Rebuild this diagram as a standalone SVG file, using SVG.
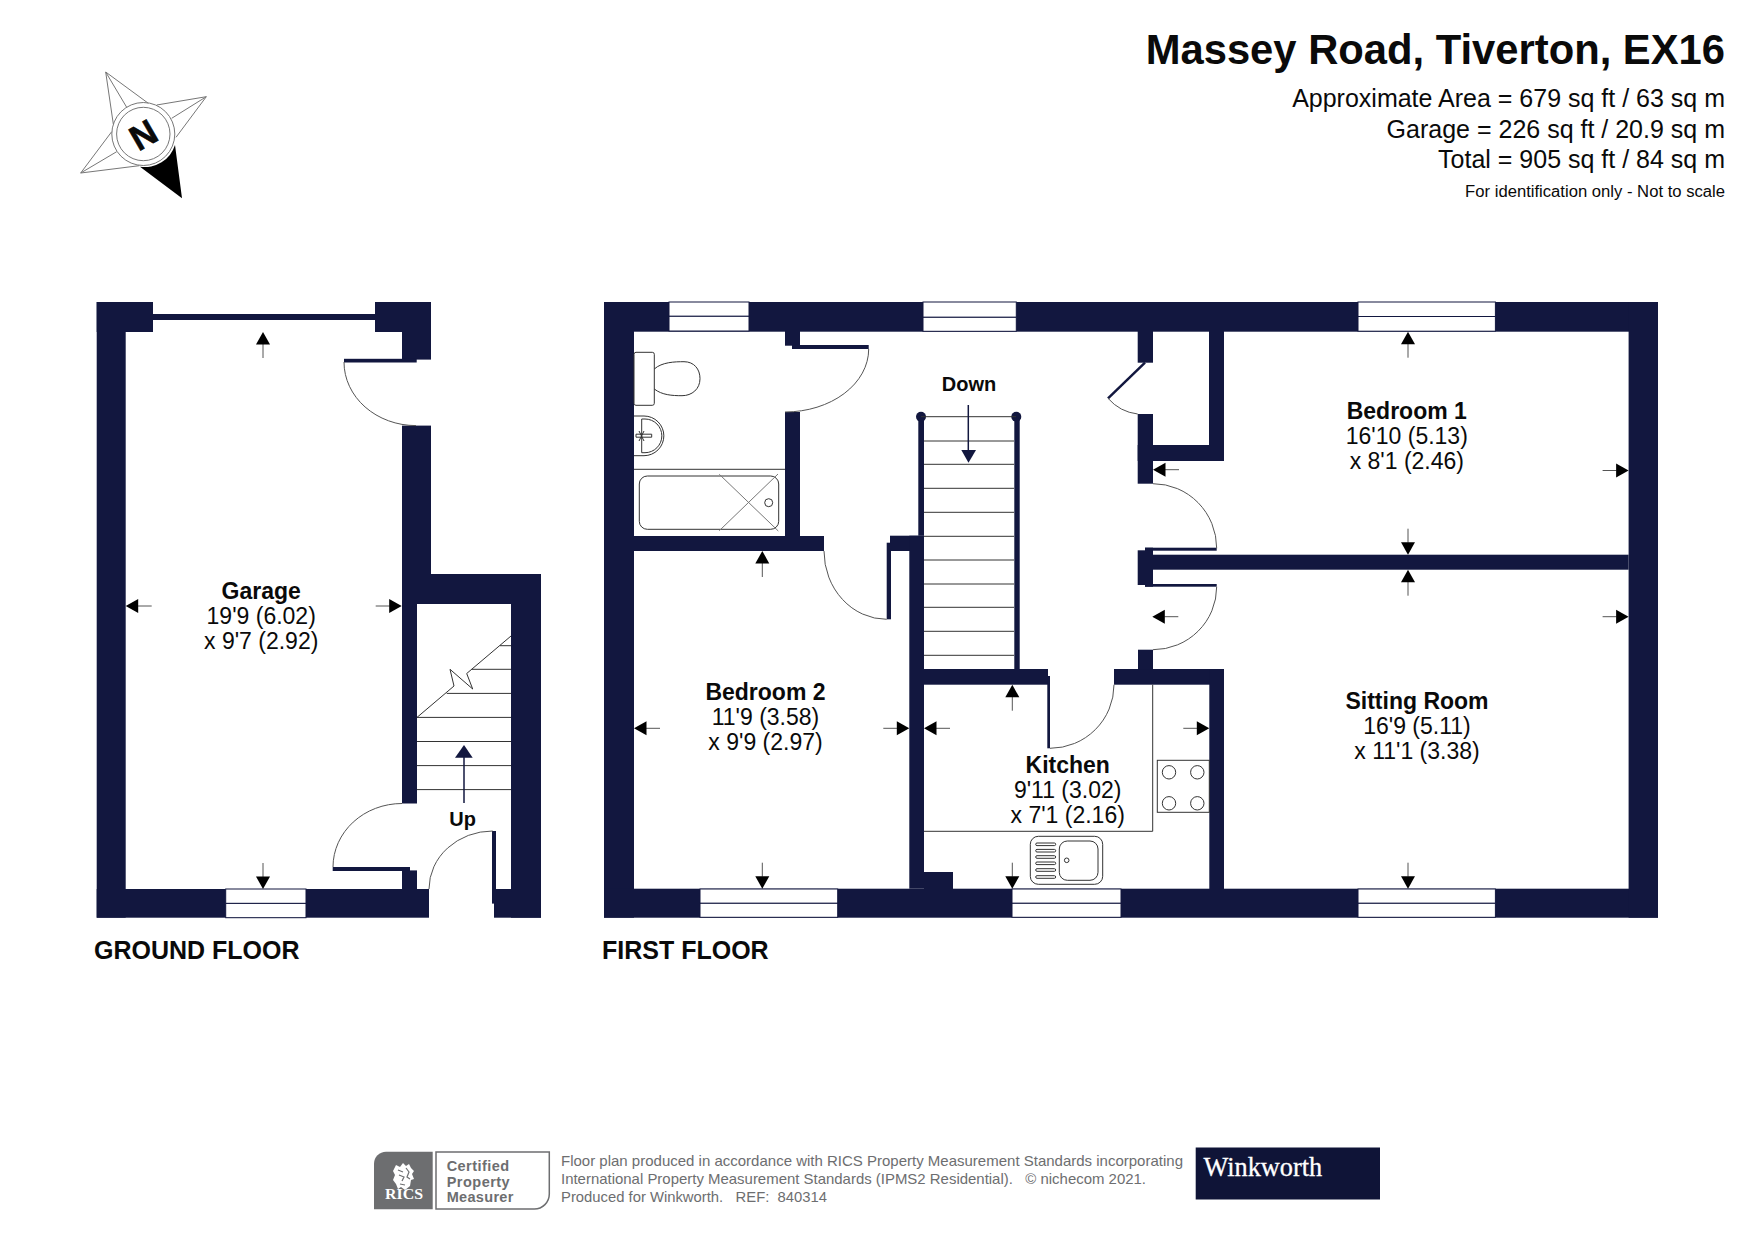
<svg xmlns="http://www.w3.org/2000/svg" width="1755" height="1241" viewBox="0 0 1755 1241">
<style>
text{font-family:"Liberation Sans",Arial,sans-serif;fill:#0a0a0a}
.b{font-weight:700}
.r{font-size:23px;text-anchor:middle}
.w{fill:#12173f}
.win{fill:#fff;stroke:#12173f;stroke-width:1}
.l{fill:none;stroke:#12173f;stroke-width:1.2}
.t{fill:none;stroke:#333;stroke-width:1}
.d{fill:none;stroke:#555;stroke-width:1}
.c{fill:none;stroke:#777;stroke-width:1}
.h{font-size:25px;text-anchor:end}
.f{font-size:14.5px;fill:#6d6e70;white-space:pre}
.p{font-size:14.5px;fill:#6d6e70;font-weight:700}
</style>
<defs>
<g id="a"><line x1="0" y1="12" x2="0" y2="26" stroke="#555" stroke-width="1"/><polygon points="0,0 7,12.5 -7,12.5" fill="#000"/></g>
</defs>
<rect width="1755" height="1241" fill="#fff"/>

<g id="compass">
<path class="c" d="M105.7 72L148.300 103.300M105.7 72L113.300 124M105.7 72L126.700 107.300M206.300 96.700L156.700 105M206.300 96.700L176 137.300M206.300 96.700L171.700 118.300M80.700 173L111.700 131.700M80.700 173L139.300 165.700M80.700 173L116.700 151.700"/>
<circle class="c" cx="143.300" cy="134" r="31.500"/>
<circle class="c" cx="143.300" cy="134" r="26.700"/>
<path fill="#000" d="M140 166.700L182 198.300L175 145A31.500 31.500 0 0 1 140 166.700Z"/>
<text class="b" font-size="35" text-anchor="middle" transform="translate(143.300,134.700) rotate(-30)" y="12.500" style="stroke:#000;stroke-width:.6">N</text>
</g>

<g id="title">
<text class="b" x="1725" y="63.500" font-size="41.750" text-anchor="end">Massey Road, Tiverton, EX16</text>
<text class="h" x="1725" y="107">Approximate Area = 679 sq ft / 63 sq m</text>
<text class="h" x="1725" y="138">Garage = 226 sq ft / 20.9 sq m</text>
<text class="h" x="1725" y="168">Total = 905 sq ft / 84 sq m</text>
<text x="1725" y="197" font-size="16.650" text-anchor="end">For identification only - Not to scale</text>
</g>

<g id="ground-floor">
<g id="ground-walls">
<rect class="w" x="96.700" y="302" width="29" height="615.700"/>
<rect class="w" x="96.700" y="302" width="56.300" height="30"/>
<rect class="w" x="153" y="314" width="222" height="6"/>
<rect class="w" x="375" y="302" width="56" height="30"/>
<rect class="w" x="402" y="302" width="29" height="57.600"/>
<rect class="w" x="344" y="358.800" width="72.700" height="3.700"/>
<rect class="w" x="402" y="425.600" width="29" height="148.400"/>
<rect class="w" x="402" y="574" width="139" height="30"/>
<rect class="w" x="511" y="574" width="30" height="343.700"/>
<rect class="w" x="402" y="600" width="15" height="203.500"/>
<rect class="w" x="332.700" y="867" width="77.300" height="4"/>
<rect class="w" x="402" y="870.400" width="15" height="20"/>
<rect class="w" x="96.700" y="889" width="332.300" height="28.700"/>
<rect class="w" x="492" y="831" width="4" height="72.600"/>
<rect class="w" x="494" y="889" width="47" height="28.700"/>
</g>
<g id="ground-window"><rect class="win" x="225.700" y="889" width="80.300" height="14.400"/><rect class="win" x="225.700" y="903.400" width="80.300" height="14.300"/></g>
<g id="ground-doors">
<path class="d" d="M344 362A72 63.600 0 0 0 416 425.600"/>
<path class="d" d="M402 803.500A69 63.500 0 0 0 333 867"/>
<path class="d" d="M429 889A63.700 58 0 0 1 492.700 831"/>
</g>
<g id="ground-stairs">
<path class="t" d="M417 789.600H511M417 765.600H511M417 741.500H511M417 717.400H511M446.700 693.400H511M471.700 669.300H511M500 645.700H511"/>
<path class="t" d="M417 717.400L454 686L450 669.300L472.700 689L466.700 673.500L511 636"/>
<line x1="464" y1="803" x2="464" y2="756" stroke="#12173f" stroke-width="1.500"/>
<polygon class="w" points="464,745 472.700,757.700 455,757.700"/>
<text class="b" x="462.700" y="826" font-size="20" text-anchor="middle">Up</text>
</g>
<g id="garage-label">
<text class="r b" x="261.200" y="599">Garage</text>
<text class="r" x="261.200" y="624">19'9 (6.02)</text>
<text class="r" x="261.200" y="649">x 9'7 (2.92)</text>
</g>
<g id="garage-arrows">
<use href="#a" transform="translate(263,332)"/>
<use href="#a" transform="translate(125.700,606) rotate(-90)"/>
<use href="#a" transform="translate(401.700,606) rotate(90)"/>
<use href="#a" transform="translate(263,889) rotate(180)"/>
</g>
<text class="b" x="94" y="959" font-size="25">GROUND FLOOR</text>
</g>

<g id="first-floor">
<g id="first-walls">
<rect class="w" x="604" y="302" width="1054" height="29.700"/>
<rect class="w" x="604" y="302" width="30" height="615.700"/>
<rect class="w" x="604" y="888.700" width="1054" height="29"/>
<rect class="w" x="1628.600" y="302" width="29.400" height="615.700"/>
<rect class="w" x="785" y="331" width="15" height="14.700"/>
<rect class="w" x="792" y="345" width="76.700" height="4"/>
<rect class="w" x="785" y="412" width="15" height="124"/>
<rect class="w" x="634" y="536" width="190" height="15"/>
<rect class="w" x="886.700" y="542.700" width="4.300" height="76.600"/>
<rect class="w" x="890" y="535.700" width="34" height="15.300"/>
<rect class="w" x="909.300" y="535.700" width="14.700" height="353"/>
<rect class="w" x="918.300" y="416.700" width="5.700" height="119"/>
<rect class="w" x="1014.300" y="416.700" width="5.400" height="252.300"/>
<circle class="w" cx="921" cy="416.700" r="5"/>
<circle class="w" cx="1016.300" cy="416.700" r="5"/>
<rect class="w" x="924" y="669" width="124" height="15.700"/>
<rect class="w" x="1047.300" y="676" width="2.700" height="72.300"/>
<rect class="w" x="1114" y="669" width="110" height="15.700"/>
<rect class="w" x="1138" y="649.700" width="15" height="20"/>
<rect class="w" x="1209.300" y="669" width="14.700" height="220"/>
<rect class="w" x="924" y="872" width="29" height="17"/>
<rect class="w" x="1137.700" y="331" width="15.300" height="31.700"/>
<rect class="w" x="1209" y="331" width="15" height="130"/>
<rect class="w" x="1137.700" y="445" width="86.300" height="16"/>
<rect class="w" x="1137.700" y="414" width="15.300" height="69.700"/>
<line x1="1145" y1="362.700" x2="1108" y2="398.300" stroke="#12173f" stroke-width="2.500"/>
<rect class="w" x="1145" y="547.700" width="71.700" height="3"/>
<rect class="w" x="1145" y="554.700" width="483.600" height="15"/>
<rect class="w" x="1145" y="547.700" width="8" height="39"/>
<rect class="w" x="1137.700" y="550.300" width="15.300" height="34.700"/>
<rect class="w" x="1145" y="584" width="71.700" height="2.700"/>
</g>
<g id="first-windows">
<rect class="win" x="669" y="302" width="80" height="14.300"/><rect class="win" x="669" y="316.300" width="80" height="14.700"/>
<rect class="win" x="923" y="302" width="93.300" height="15.300"/><rect class="win" x="923" y="317.300" width="93.300" height="14"/>
<rect class="win" x="1358" y="302" width="137.400" height="14.500"/><rect class="win" x="1358" y="316.500" width="137.400" height="14.700"/>
<rect class="win" x="700" y="889" width="137.700" height="14.300"/><rect class="win" x="700" y="903.300" width="137.700" height="14"/>
<rect class="win" x="1012" y="889" width="109" height="14.300"/><rect class="win" x="1012" y="903.300" width="109" height="14"/>
<rect class="win" x="1358" y="889" width="137.400" height="14.300"/><rect class="win" x="1358" y="903.300" width="137.400" height="14"/>
</g>
<g id="first-doors">
<path class="d" d="M868.700 349A83.700 63 0 0 1 785 412"/>
<path class="d" d="M824 551A62.700 68.300 0 0 0 886.700 619.300"/>
<path class="d" d="M1114 684.700A64 63.600 0 0 1 1050 748.300"/>
<path class="d" d="M1108 398.300Q1120 412 1137.700 414"/>
<path class="d" d="M1153 483.700A63.700 64.600 0 0 1 1216.700 548.300"/>
<path class="d" d="M1216.700 586.700A63.700 63 0 0 1 1153 649.700"/>
</g>
<g id="first-stairs">
<path class="t" d="M921 416.700H1016M924 441H1014M924 464.300H1014M924 488.300H1014M924 512.300H1014M924 536.300H1014M924 560H1014M924 584H1014M924 607.300H1014M924 631.300H1014M924 655.300H1014"/>
<line x1="968.300" y1="405" x2="968.300" y2="451" stroke="#12173f" stroke-width="1.500"/>
<polygon class="w" points="961.300,450 976,450 968.500,462.700"/>
<text class="b" x="969" y="391" font-size="20" text-anchor="middle">Down</text>
</g>
<g id="bathroom-fittings">
<rect class="t" x="634" y="352.300" width="20.300" height="53" rx="2"/>
<path class="t" d="M654.300 369C662 362 675 361.700 684 361.700C694 361.700 700 369 700 378.700C700 389 692 395.700 682 395.700C672 395.700 662 395 654.300 389"/>
<path class="t" d="M634 416H644A19.800 19.800 0 0 1 644 455.700H634"/>
<path class="t" d="M641.700 419H645A16.700 16.700 0 0 1 645 452.700H641.700Z"/>
<path class="t" d="M636 434.200H651.700V437.200H636Z"/>
<path class="t" d="M639 431L644 441M644 431L639 441"/>
<line class="t" x1="634" y1="469.300" x2="785" y2="469.300"/>
<rect class="t" x="639.300" y="476" width="139.400" height="53.300" rx="8"/>
<path class="c" d="M719.300 474.300L778.300 531M778 474L719.300 530.700"/>
<circle class="t" cx="768.700" cy="502.700" r="4"/>
</g>
<g id="kitchen-fittings">
<path class="t" d="M1152.700 684.700V831.300H924"/>
<rect class="t" x="1157.300" y="760.300" width="52" height="52"/>
<circle class="t" cx="1169" cy="772.300" r="6.700"/>
<circle class="t" cx="1197.300" cy="772.300" r="6.700"/>
<circle class="t" cx="1169" cy="803.300" r="6.700"/>
<circle class="t" cx="1197.300" cy="803.300" r="6.700"/>
<rect class="t" x="1030.300" y="836.300" width="72.400" height="48" rx="8"/>
<rect class="t" x="1059.300" y="841" width="38.700" height="39.300" rx="8"/>
<circle class="t" cx="1066.700" cy="860.300" r="2.300"/>
<rect class="t" x="1035.700" y="843" width="20" height="2.600" rx="1.300"/>
<rect class="t" x="1035.700" y="849.400" width="20" height="2.600" rx="1.300"/>
<rect class="t" x="1035.700" y="855.700" width="20" height="2.600" rx="1.300"/>
<rect class="t" x="1035.700" y="862" width="20" height="2.600" rx="1.300"/>
<rect class="t" x="1035.700" y="868.700" width="20" height="2.600" rx="1.300"/>
<rect class="t" x="1035.700" y="875.700" width="20" height="2.600" rx="1.300"/>
</g>
<g id="bedroom-1">
<text class="r b" x="1406.800" y="419.300">Bedroom 1</text>
<text class="r" x="1406.800" y="444.300">16'10 (5.13)</text>
<text class="r" x="1406.800" y="469.300">x 8'1 (2.46)</text>
<use href="#a" transform="translate(1408,331.700)"/>
<use href="#a" transform="translate(1153,469.700) rotate(-90)"/>
<use href="#a" transform="translate(1628.600,470.500) rotate(90)"/>
<use href="#a" transform="translate(1408,554.700) rotate(180)"/>
</g>
<g id="bedroom-2">
<text class="r b" x="765.500" y="700">Bedroom 2</text>
<text class="r" x="765.500" y="725">11'9 (3.58)</text>
<text class="r" x="765.500" y="750">x 9'9 (2.97)</text>
<use href="#a" transform="translate(762.300,551)"/>
<use href="#a" transform="translate(634,728.300) rotate(-90)"/>
<use href="#a" transform="translate(909.300,728.300) rotate(90)"/>
<use href="#a" transform="translate(762.300,888.700) rotate(180)"/>
</g>
<g id="kitchen">
<text class="r b" x="1067.700" y="772.700">Kitchen</text>
<text class="r" x="1067.700" y="797.700">9'11 (3.02)</text>
<text class="r" x="1067.700" y="822.700">x 7'1 (2.16)</text>
<use href="#a" transform="translate(1012.300,684.700)"/>
<use href="#a" transform="translate(924,728.300) rotate(-90)"/>
<use href="#a" transform="translate(1209.300,728.300) rotate(90)"/>
<use href="#a" transform="translate(1012.300,888.700) rotate(180)"/>
</g>
<g id="sitting-room">
<text class="r b" x="1417" y="709.300">Sitting Room</text>
<text class="r" x="1417" y="734.300">16'9 (5.11)</text>
<text class="r" x="1417" y="759.300">x 11'1 (3.38)</text>
<use href="#a" transform="translate(1408,569.700)"/>
<use href="#a" transform="translate(1152.300,616.700) rotate(-90)"/>
<use href="#a" transform="translate(1628.600,616.700) rotate(90)"/>
<use href="#a" transform="translate(1408,888.700) rotate(180)"/>
</g>
<text class="b" x="602" y="959" font-size="25">FIRST FLOOR</text>
</g>

<g id="footer">
<g id="rics">
<path fill="#6d6e70" d="M386 1151.700H432.700V1209.300H374V1163.700A12 12 0 0 1 386 1151.700Z"/>
<path fill="#fff" d="M396 1165L400 1167L403 1163L406 1166L409 1164L411 1168L414 1171L412 1174L414 1179L411 1180L410 1186L405 1190L401 1187L398 1189L396 1184L393 1180L395 1175L393 1171Z"/>
<path fill="none" stroke="#6d6e70" stroke-width="1.200" d="M398 1170L403 1172M399 1175L404 1177L402 1181M406 1168L409 1172L407 1177L410 1179M400 1184L405 1185"/>
<text x="385" y="1198.500" font-size="15" font-weight="700" style="font-family:'Liberation Serif',serif;fill:#fff" textLength="38" lengthAdjust="spacingAndGlyphs">RICS</text>
<path fill="none" stroke="#6d6e70" stroke-width="1.500" d="M436 1152H549.300V1194A15 15 0 0 1 534.300 1209H436Z"/>
<text class="p" x="446.700" y="1170.700" textLength="62.300">Certified</text>
<text class="p" x="446.700" y="1186.700" textLength="63">Property</text>
<text class="p" x="446.700" y="1201.700" textLength="66.700">Measurer</text>
</g>
<text class="f" x="561" y="1165.500" textLength="622" lengthAdjust="spacingAndGlyphs">Floor plan produced in accordance with RICS Property Measurement Standards incorporating</text>
<text class="f" x="561" y="1183.500" textLength="585" lengthAdjust="spacingAndGlyphs">International Property Measurement Standards (IPMS2 Residential).   © nichecom 2021.</text>
<text class="f" x="561" y="1201.500" textLength="266" lengthAdjust="spacingAndGlyphs">Produced for Winkworth.   REF:  840314</text>
<g id="winkworth">
<rect x="1195.700" y="1147.500" width="184.300" height="52" fill="#0f1437"/>
<text x="1203.500" y="1175.500" font-size="26.300" style="font-family:'Liberation Serif',serif;fill:#fff;stroke:#fff;stroke-width:.3">Winkworth</text>
</g>
</g>
</svg>
